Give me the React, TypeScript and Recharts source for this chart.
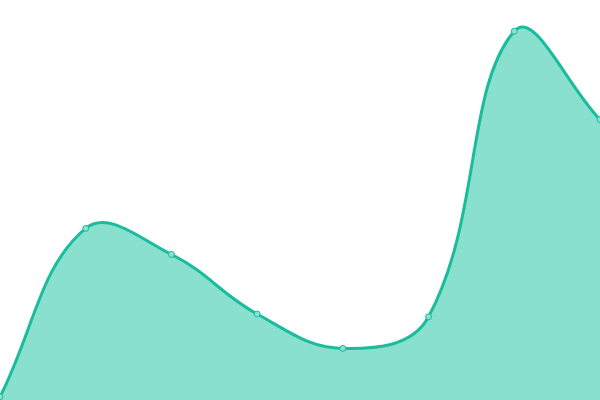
import { AreaChart, Area, XAxis, YAxis } from "recharts";

const labels = ["A", "B", "C", "D", "E", "F", "G", "H"];
const values = [0.8, 42.9, 36.4, 21.5, 12.9, 20.8, 92.2, 70.1];

const data = labels.map((label, i) => ({ label, value: values[i] }));

const TEAL = "#1abc9c";
const TEAL_FILL = "#8ae0cf";

// cubic spline with tension, same control points as a canvas chart's default curve
function tensionCurve(context: any) {
  const t = 0.4;
  let xs: number[] = [];
  let ys: number[] = [];
  let line = NaN;
  return {
    areaStart() { line = 0; },
    areaEnd() { line = NaN; },
    lineStart() { xs = []; ys = []; },
    point(x: number, y: number) { xs.push(+x); ys.push(+y); },
    lineEnd() {
      const n = xs.length;
      if (n) {
        if (line) context.lineTo(xs[0], ys[0]);
        else context.moveTo(xs[0], ys[0]);
        const prevC: [number, number][] = [];
        const nextC: [number, number][] = [];
        for (let i = 0; i < n; i++) {
          const p = i > 0 ? i - 1 : i;
          const q = i < n - 1 ? i + 1 : i;
          const d01 = Math.hypot(xs[i] - xs[p], ys[i] - ys[p]);
          const d12 = Math.hypot(xs[q] - xs[i], ys[q] - ys[i]);
          let s01 = d01 / (d01 + d12);
          let s12 = d12 / (d01 + d12);
          if (isNaN(s01)) s01 = 0;
          if (isNaN(s12)) s12 = 0;
          const fa = t * s01;
          const fb = t * s12;
          const dx = xs[q] - xs[p];
          const dy = ys[q] - ys[p];
          prevC.push([xs[i] - fa * dx, ys[i] - fa * dy]);
          nextC.push([xs[i] + fb * dx, ys[i] + fb * dy]);
        }
        for (let i = 0; i < n - 1; i++) {
          context.bezierCurveTo(
            nextC[i][0], nextC[i][1],
            prevC[i + 1][0], prevC[i + 1][1],
            xs[i + 1], ys[i + 1],
          );
        }
      }
      if (line || (line !== 0 && n === 1)) context.closePath();
      line = 1 - line;
    },
  };
}

export default function App() {
  return (
    <div style={{ position: "absolute", left: 0, top: 0, width: 600, height: 400, background: "#fff" }}>
      <AreaChart width={600} height={400} data={data} margin={{ top: 0, right: 0, bottom: 0, left: 0 }}>
        <XAxis dataKey="label" hide padding={{ left: 0, right: 0 }} />
        <YAxis hide domain={[0, 100]} />
        <Area
          type={tensionCurve as any}
          dataKey="value"
          stroke={TEAL}
          strokeWidth={3}
          fill={TEAL_FILL}
          fillOpacity={1}
          dot={{ r: 3, fill: TEAL_FILL, stroke: TEAL, strokeWidth: 1, fillOpacity: 1 }}
          activeDot={false}
          isAnimationActive={false}
        />
      </AreaChart>
    </div>
  );
}
